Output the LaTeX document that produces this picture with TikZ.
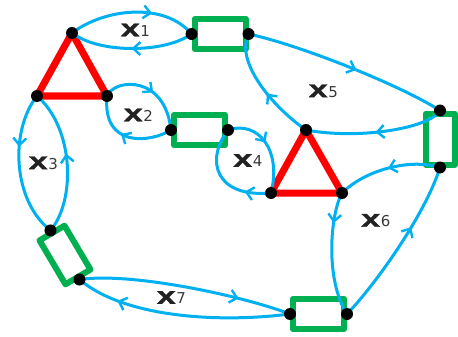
\documentclass[tikz,border=0pt]{standalone}
\usepackage{fontspec}
\newfontfamily\xfont{Liberation Mono}[BoldFeatures={FakeBold=1.2}]
\newfontfamily\digfont{DejaVu Sans}
\usetikzlibrary{arrows.meta,decorations.markings}
\definecolor{lineblue}{HTML}{00B0F0}
\definecolor{boxgreen}{HTML}{00B050}
\definecolor{trired}{HTML}{FF0000}
\definecolor{labdark}{HTML}{222222}
\definecolor{labgray}{HTML}{3A3A3A}
\newcommand{\xlab}[1]{{\xfont\bfseries\fontsize{24}{24}\selectfont\color{labdark}\scalebox{1.4}[1]{x}}{\digfont\fontsize{15}{15}\selectfont\color{labgray}#1}}
\begin{document}
\begin{tikzpicture}[x=1pt,y=-1pt,
  flow/.style={draw=lineblue, line width=3pt, postaction={decorate},
    decoration={markings, mark=at position #1 with {\arrow[line width=2.4pt]{Straight Barb[length=7pt,width=13pt]}}}},
  gbox/.style={draw=boxgreen, line width=6pt, rectangle, line join=round, inner sep=0pt, minimum width=51pt, minimum height=30.5pt},
  tri/.style={draw=trired, line width=7pt, line join=round},
  lab/.style={inner sep=0pt, anchor=center},
  dotc/.style={fill=black}]
\useasboundingbox (0,0) rectangle (458,337);
\fill[white] (0,0) rectangle (458,337);

% triangle vertices
\coordinate (t1a) at (72,33);
\coordinate (t1b) at (37,96);
\coordinate (t1c) at (107,96);
\coordinate (t2a) at (306,130);
\coordinate (t2b) at (271,193);
\coordinate (t2c) at (342,193);

% boxes
\node[gbox] (b1) at (220,34) {};
\node[gbox] (b2) at (199.5,130) {};
\node[gbox, minimum width=29pt, minimum height=51pt] (b3) at (440,139) {};
\node[gbox] (b4) at (318.5,314) {};
\node[gbox, minimum width=29pt, minimum height=51pt, rotate=30.6] (b5) at (65,255) {};

% triangles
\draw[tri] (t1a) -- (t1b) -- (t1c) -- cycle;
\draw[tri] (t2a) -- (t2b) -- (t2c) -- cycle;

% connectors
\draw[flow=0.65] (t1a) .. controls (105,8) and (165,2) .. (b1.west);
\draw[flow=0.5] (b1.west) .. controls (165,53) and (100,54) .. (t1a);
\draw[flow=0.55] (t1c) .. controls (115,78) and (165,75) .. (b2.west);
\draw[flow=0.55] (b2.west) .. controls (150,143) and (102,148) .. (t1c);
\draw[flow=0.37] (t1b) .. controls (10,130) and (12,200) .. (b5.north);
\draw[flow=0.55] (b5.north) .. controls (76,200) and (74,128) .. (t1b);
\draw[flow=0.45] (b2.east) .. controls (258,120) and (282,150) .. (t2b);
\draw[flow=0.25] (t2b) .. controls (215,198) and (205,160) .. (b2.east);
\draw[flow=0.55] (b1.east) .. controls (300,45) and (400,85) .. (b3.north);
\draw[flow=0.5] (b3.north) .. controls (430,128) and (360,140) .. (t2a);
\draw[flow=0.45] (t2a) .. controls (270,105) and (235,60) .. (b1.east);
\draw[flow=0.5] (b3.south) .. controls (410,158) and (365,170) .. (t2c);
\draw[flow=0.25] (t2c) .. controls (330,215) and (325,280) .. (b4.east);
\draw[flow=0.62] (b4.east) .. controls (375,285) and (425,215) .. (b3.south);
\draw[flow=0.75] (b5.south) .. controls (130,272) and (240,295) .. (b4.west);
\draw[flow=0.8] (b4.west) .. controls (220,323) and (125,318) .. (b5.south);

% dots
\foreach \p in {t1a,t1b,t1c,t2a,t2b,t2c,b1.west,b1.east,b2.west,b2.east,b3.north,b3.south,b4.west,b4.east,b5.north,b5.south}
  \fill[dotc] (\p) circle[radius=6pt];

% labels
\node[lab] (l1) at (135,30) {\xlab{1}};
\node[lab] (l2) at (138,115) {\xlab{2}};
\node[lab] (l3) at (43,163) {\xlab{3}};
\node[lab] (l4) at (247.5,160.5) {\xlab{4}};
\node[lab] (l5) at (323,91) {\xlab{5}};
\node[lab] (l6) at (375.5,220.5) {\xlab{6}};
\node[lab] (l7) at (171,297.5) {\xlab{7}};
\end{tikzpicture}
\end{document}
